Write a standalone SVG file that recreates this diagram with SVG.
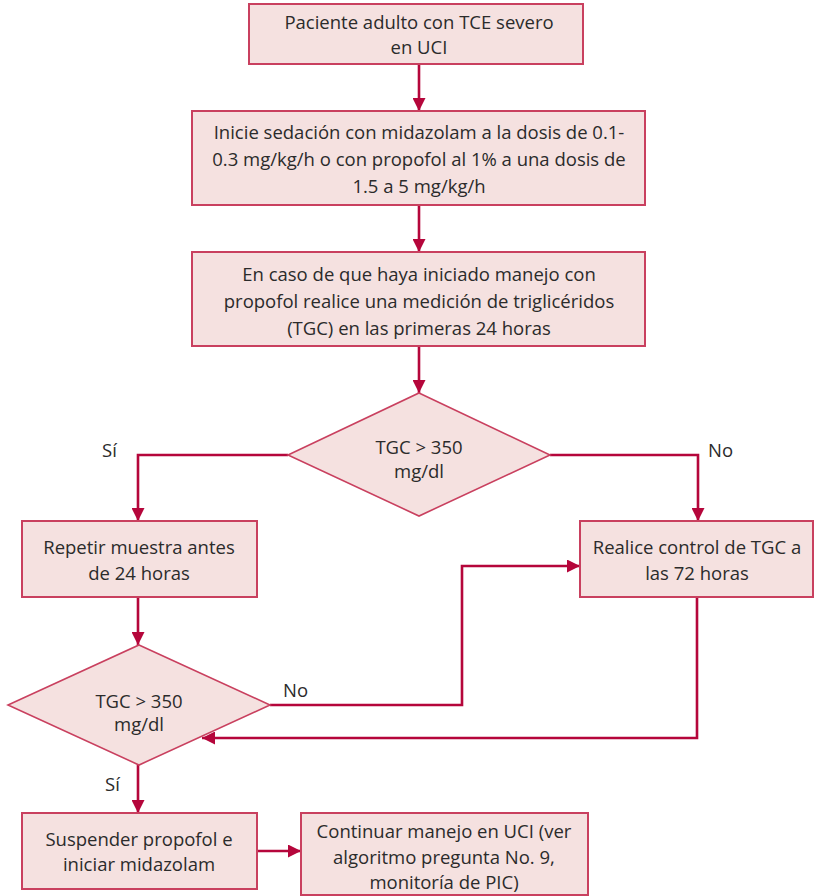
<svg xmlns="http://www.w3.org/2000/svg" width="814" height="896" viewBox="0 0 814 896">
<defs>
<style>
.box{fill:#f5e1e0;stroke:#c9405f;stroke-width:2}
.dia{fill:#f5e1e0;stroke:#c9405f;stroke-width:1.6}
.t{font-family:"Open Sans","Liberation Sans",sans-serif;font-size:18.5px;fill:#2b2b2b;text-anchor:middle}
.lbl{font-family:"Open Sans","Liberation Sans",sans-serif;font-size:18.5px;fill:#2b2b2b}
.c{fill:none;stroke:#b5063b;stroke-width:2.6;marker-end:url(#ah)}
</style>
<marker id="ah" viewBox="0 0 10 10" refX="10" refY="5" markerUnits="userSpaceOnUse" markerWidth="14" markerHeight="13" orient="auto">
<path d="M0,0 L10,5 L0,10 z" fill="#b5063b"/>
</marker>
</defs>
<g id="connectors">
<path class="c" d="M419,64 V111"/>
<path class="c" d="M419,205 V252"/>
<path class="c" d="M419,346 V393"/>
<path class="c" d="M288,455 H138 V521"/>
<path class="c" d="M550,455 H698 V521"/>
<path class="c" d="M138,597 V645"/>
<path class="c" d="M270,705 H462 V566 H580"/>
<path class="c" d="M697,597 V738 H202"/>
<path class="c" d="M138,765 V813"/>
<path class="c" d="M257,851 H301"/>
</g>
<g id="labels">
<text class="lbl" x="102" y="457">Sí</text>
<text class="lbl" x="708" y="457">No</text>
<text class="lbl" x="283" y="697">No</text>
<text class="lbl" x="105" y="791">Sí</text>
</g>
<g id="n1">
<rect class="box" x="249" y="4" width="334" height="60"/>
<text class="t" x="419" y="29">Paciente adulto con TCE severo</text>
<text class="t" x="419" y="54">en UCI</text>
</g>
<g id="n2">
<rect class="box" x="192" y="111" width="453" height="94"/>
<text class="t" x="419" y="139">Inicie sedación con midazolam a la dosis de 0.1-</text>
<text class="t" x="419" y="166">0.3 mg/kg/h o con propofol al 1% a una dosis de</text>
<text class="t" x="419" y="193">1.5 a 5 mg/kg/h</text>
</g>
<g id="n3">
<rect class="box" x="192" y="252" width="453" height="94"/>
<text class="t" x="419" y="281">En caso de que haya iniciado manejo con</text>
<text class="t" x="419" y="308">propofol realice una medición de triglicéridos</text>
<text class="t" x="419" y="335">(TGC) en las primeras 24 horas</text>
</g>
<g id="d1">
<polygon class="dia" points="419,393 550,455 419,516 288,455"/>
<text class="t" x="419" y="454">TGC &gt; 350</text>
<text class="t" x="419" y="478">mg/dl</text>
</g>
<g id="n4">
<rect class="box" x="22" y="521" width="235" height="76"/>
<text class="t" x="139" y="554">Repetir muestra antes</text>
<text class="t" x="139" y="580">de 24 horas</text>
</g>
<g id="n5">
<rect class="box" x="580" y="521" width="233" height="76"/>
<text class="t" x="697" y="554">Realice control de TGC a</text>
<text class="t" x="697" y="580">las 72 horas</text>
</g>
<g id="d2">
<polygon class="dia" points="139,645 270,705 139,765 8,705"/>
<text class="t" x="139" y="708">TGC &gt; 350</text>
<text class="t" x="139" y="731">mg/dl</text>
</g>
<g id="n6">
<rect class="box" x="22" y="813" width="235" height="76"/>
<text class="t" x="139" y="846">Suspender propofol e</text>
<text class="t" x="139" y="871">iniciar midazolam</text>
</g>
<g id="n7">
<rect class="box" x="301" y="813" width="287" height="82"/>
<text class="t" x="444" y="838">Continuar manejo en UCI (ver</text>
<text class="t" x="444" y="864">algoritmo pregunta No. 9,</text>
<text class="t" x="444" y="889">monitoría de PIC)</text>
</g>
</svg>
